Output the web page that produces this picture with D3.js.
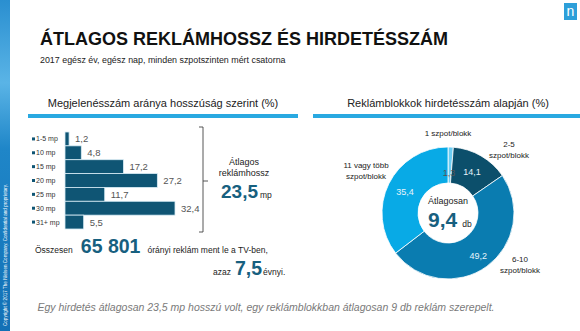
<!DOCTYPE html>
<html>
<head>
<meta charset="utf-8">
<script src="https://cdn.jsdelivr.net/npm/d3@7"></script>
<style>
  body { margin: 0; background: #fff; }
  text { font-family: "Liberation Sans", Arial, sans-serif; }
</style>
</head>
<body>
<svg id="drawspace" width="580" height="331"></svg>
<script>
// bar chart data
const barLabels = ["1-5 mp", "10 mp", "15 mp", "20 mp", "25 mp", "30 mp", "31+ mp"];
const barValues = [1.2, 4.8, 17.2, 27.2, 11.7, 32.4, 5.5];

// donut data
const pieLabels = [["1 szpot/blokk"], ["2-5", "szpot/blokk"], ["6-10", "szpot/blokk"], ["11 vagy több", "szpot/blokk"]];
const pieValues = [1.3, 14.1, 49.2, 35.4];
const pieColors = ["#6ccdf3", "#0c4f6b", "#0a7cb0", "#08aae6"];

const fmt = (v) => String(v).replace(".", ",");

let svg = d3.select("#drawspace");
const dark = "#17607f";
const lineBlue = "#29a9e1";

// left stripe
let defs = svg.append("defs");
let grad = defs.append("linearGradient").attr("id", "side").attr("x1", 0).attr("y1", 0).attr("x2", 0).attr("y2", 1);
grad.append("stop").attr("offset", "0%").attr("stop-color", "#2a8fd0");
grad.append("stop").attr("offset", "25%").attr("stop-color", "#5ab4e6");
grad.append("stop").attr("offset", "45%").attr("stop-color", "#1f86c8");
grad.append("stop").attr("offset", "100%").attr("stop-color", "#1270b5");
svg.append("rect").attr("x", 0).attr("y", 0).attr("width", 10).attr("height", 331).attr("fill", "url(#side)");
svg.append("text")
  .attr("transform", "translate(7,326) rotate(-90)")
  .attr("font-size", 4.6)
  .attr("fill", "#fff")
  .text("Copyright © 2017 The Nielsen Company. Confidential and proprietary.");

// nielsen logo
svg.append("rect").attr("x", 564).attr("y", 3).attr("width", 13).attr("height", 17).attr("fill", "#2d9fd9");
svg.append("text").attr("x", 570.5).attr("y", 16).attr("text-anchor", "middle")
  .attr("font-family", "Liberation Serif, serif").attr("font-size", 14).attr("fill", "#fff").text("n");

// title
svg.append("text").attr("x", 40).attr("y", 45)
  .attr("font-size", 18).attr("font-weight", "bold").attr("fill", "#111")
  .text("ÁTLAGOS REKLÁMHOSSZ ÉS HIRDETÉSSZÁM");
svg.append("text").attr("x", 40).attr("y", 63)
  .attr("font-size", 8.9).attr("fill", "#222")
  .text("2017 egész év, egész nap, minden szpotszinten mért csatorna");

// section headers
svg.append("text").attr("x", 163).attr("y", 107).attr("text-anchor", "middle")
  .attr("font-size", 11).attr("fill", "#222").text("Megjelenésszám aránya hosszúság szerint (%)");
svg.append("text").attr("x", 448).attr("y", 107).attr("text-anchor", "middle")
  .attr("font-size", 11).attr("fill", "#222").text("Reklámblokkok hirdetésszám alapján (%)");
svg.append("rect").attr("x", 28).attr("y", 114).attr("width", 270).attr("height", 4).attr("fill", lineBlue);
svg.append("rect").attr("x", 313).attr("y", 114).attr("width", 267).attr("height", 4).attr("fill", lineBlue);

// bar chart
let xScale = d3.scaleLinear().domain([0, 32.4]).range([65, 175]);
let yScale = d3.scaleBand().domain(barLabels).range([132, 229]).padding(0);

let bars = svg.append("g");
bars.selectAll("rect")
  .data(barValues)
  .enter()
  .append("rect")
  .attr("x", xScale(0))
  .attr("y", (d, i) => yScale(barLabels[i]))
  .attr("width", (d) => xScale(d) - xScale(0))
  .attr("height", yScale.bandwidth())
  .attr("fill", "#0f5574")
  .attr("stroke", "#d8ecf5")
  .attr("stroke-width", 0.8);

bars.selectAll(".val")
  .data(barValues)
  .enter()
  .append("text")
  .attr("class", "val")
  .attr("x", (d) => xScale(d) + 6)
  .attr("y", (d, i) => yScale(barLabels[i]) + yScale.bandwidth() / 2 + 3.5)
  .attr("font-size", 9.5)
  .attr("fill", "#555")
  .text((d) => fmt(d));

// category labels with little squares
bars.selectAll(".mk")
  .data(barLabels)
  .enter()
  .append("rect")
  .attr("class", "mk")
  .attr("x", 32)
  .attr("y", (d) => yScale(d) + yScale.bandwidth() / 2 - 1.5)
  .attr("width", 3)
  .attr("height", 3)
  .attr("fill", "#0f5574");
bars.selectAll(".lab")
  .data(barLabels)
  .enter()
  .append("text")
  .attr("class", "lab")
  .attr("x", 36)
  .attr("y", (d) => yScale(d) + yScale.bandwidth() / 2 + 2.5)
  .attr("font-size", 7)
  .attr("fill", "#333")
  .text((d) => d);

// bracket
svg.append("path")
  .attr("d", "M199,127 L203,127 L203,181 L208,181 M203,181 L203,232 L199,232")
  .attr("fill", "none").attr("stroke", "#444").attr("stroke-width", 0.9);

svg.append("text").attr("x", 244).attr("y", 165).attr("text-anchor", "middle")
  .attr("font-size", 9).attr("fill", "#222").text("Átlagos");
svg.append("text").attr("x", 244).attr("y", 176).attr("text-anchor", "middle")
  .attr("font-size", 9).attr("fill", "#222").text("reklámhossz");
let avg = svg.append("text").attr("x", 221).attr("y", 198);
avg.append("tspan").attr("font-size", 19).attr("font-weight", "bold").attr("fill", dark).text("23,5");
avg.append("tspan").attr("dx", 2).attr("font-size", 8.5).attr("fill", "#222").text("mp");

// totals
let tot = svg.append("text").attr("x", 35).attr("y", 253).attr("fill", "#222");
tot.append("tspan").attr("font-size", 8.5).text("Összesen");
tot.append("tspan").attr("dx", 8).attr("font-size", 19.5).attr("font-weight", "bold").attr("fill", dark).text("65 801");
tot.append("tspan").attr("dx", 7).attr("font-size", 8.5).text("órányi reklám ment le a TV-ben,");

let tot2 = svg.append("text").attr("x", 213).attr("y", 275).attr("fill", "#222");
tot2.append("tspan").attr("font-size", 8.5).text("azaz");
tot2.append("tspan").attr("dx", 4).attr("font-size", 19.5).attr("font-weight", "bold").attr("fill", dark).text("7,5");
tot2.append("tspan").attr("dx", 1).attr("font-size", 8.5).text("évnyi.");

// donut
const cx = 448, cy = 213;
let pie = d3.pie().sort(null).value((d) => d);
let arcs = pie(pieValues);
let arc = d3.arc().innerRadius(30).outerRadius(66);
let labelArc = d3.arc().innerRadius(48).outerRadius(48);

let donut = svg.append("g").attr("transform", `translate(${cx},${cy})`);
donut.selectAll("path")
  .data(arcs)
  .enter()
  .append("path")
  .attr("d", arc)
  .attr("fill", (d, i) => pieColors[i])
  .attr("stroke", "#fff")
  .attr("stroke-width", 0.8);

donut.selectAll(".pv")
  .data(arcs)
  .enter()
  .append("text")
  .attr("class", "pv")
  .attr("transform", (d, i) => {
    let c = labelArc.centroid(d);
    if (i == 0) c = [c[0] - 1, c[1] + 8];
    if (i == 2) c = [c[0] + 2, c[1] + 4];
    return `translate(${c[0]},${c[1]})`;
  })
  .attr("text-anchor", "middle")
  .attr("dy", "0.35em")
  .attr("font-size", 9)
  .attr("fill", (d, i) => (i == 0 ? "#555" : "#e8f4fa"))
  .text((d) => fmt(d.data));

// outside labels
const outerPos = [[0, -77], [61, -66], [72, 49], [-82, -45]];
pieLabels.forEach((lines, i) => {
  let t = donut.append("text")
    .attr("text-anchor", "middle")
    .attr("font-size", 8)
    .attr("fill", "#222");
  lines.forEach((l, j) => {
    t.append("tspan")
      .attr("x", outerPos[i][0])
      .attr("y", outerPos[i][1] + j * 10.5)
      .text(l);
  });
});

donut.append("text").attr("y", -9).attr("text-anchor", "middle")
  .attr("font-size", 9).attr("fill", "#222").text("Átlagosan");
let nine = donut.append("text").attr("x", -20).attr("y", 14);
nine.append("tspan").attr("font-size", 21).attr("font-weight", "bold").attr("fill", dark).text("9,4");
nine.append("tspan").attr("dx", 5).attr("font-size", 8.5).attr("fill", "#222").text("db");

// footer
svg.append("text").attr("x", 266).attr("y", 311).attr("text-anchor", "middle")
  .attr("font-size", 10.5).attr("font-style", "italic").attr("fill", "#7a7a7a")
  .text("Egy hirdetés átlagosan 23,5 mp hosszú volt, egy reklámblokkban átlagosan 9 db reklám szerepelt.");
</script>
</body>
</html>
